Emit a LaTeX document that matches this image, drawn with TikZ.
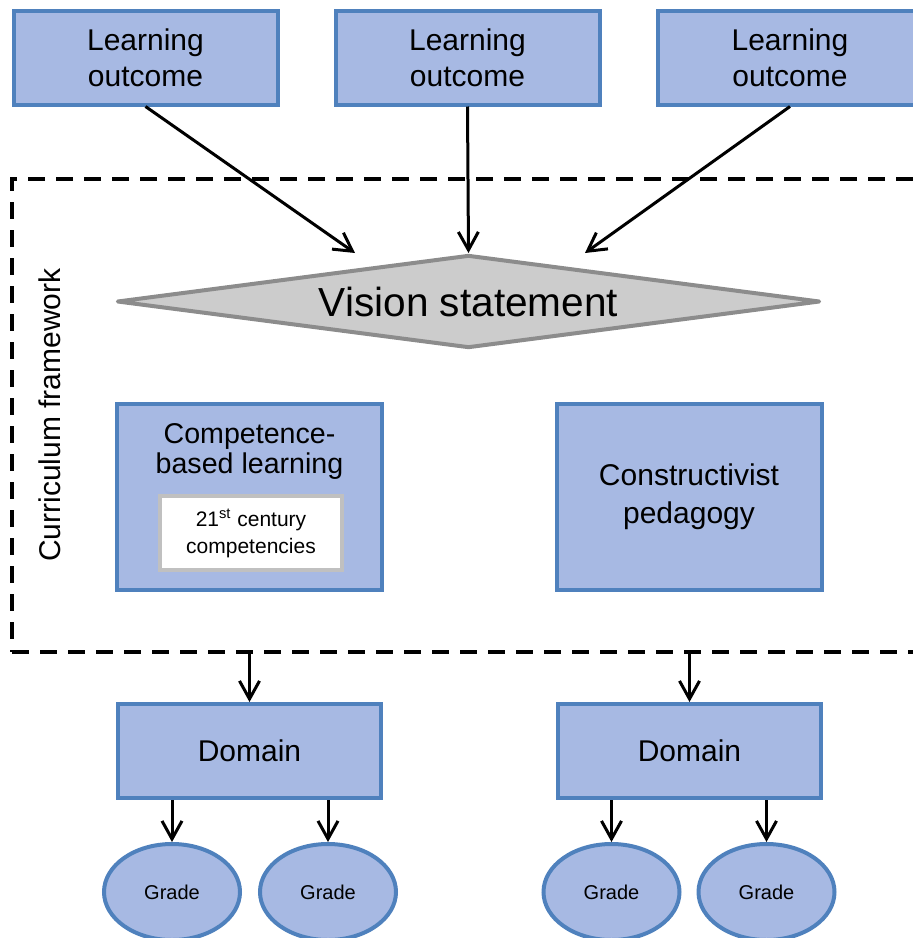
\documentclass[tikz,border=0pt]{standalone}
\usepackage{fontspec}
\setmainfont{Liberation Sans}
\usepackage{tikz}
\usetikzlibrary{
    positioning,
    arrows.meta,
    shapes.geometric
}

\begin{document}
\begin{tikzpicture}[
    x=0.5pt, y=-0.5pt,
    font=\fontsize{15}{18}\selectfont,
    box/.style={
    	draw=my-border, fill=my-blue,
    	line width=2pt,
    	inner sep=2pt, align=center
    }, grade/.style={
    	ellipse, draw=my-border, fill=my-blue,
    	line width=2pt, inner sep=0pt,
    	minimum width=68pt, minimum height=48pt,
    	font=\fontsize{10}{12}\selectfont
    }, pil/.style={
    	-{Straight Barb[length=9pt,width=10pt]},
    	line width=1.5pt
    }]
    \definecolor{my-blue}{RGB}{167, 185, 227}
    \definecolor{my-border}{RGB}{79, 129, 189}
    \definecolor{my-grey}{RGB}{204, 204, 204}
    \definecolor{my-darkgrey}{RGB}{140, 140, 140}
    \definecolor{my-lightgrey}{RGB}{192, 192, 192}

    \clip (0,0) rectangle (913,938);

    % outcomes on top
    \node[box, minimum width=132pt, minimum height=47pt] (outcome1) at (145.5,57.5) {Learning\\outcome};
    \node[box, minimum width=132pt, minimum height=47pt] (outcome2) at (467.5,57.5) {Learning\\outcome};
    \node[box, minimum width=132pt, minimum height=47pt] (outcome3) at (790,57.5) {Learning\\outcome};

    % framework
    \node[draw, dash pattern=on 8.5pt off 5.5pt, line width=1.6pt,
    	minimum width=464pt, minimum height=236.5pt, inner sep=0pt] (frame) at (476,415.5) {};
    \node[rotate=90] (frame-label) at (50,415) {Curriculum framework};

    \node[diamond, draw=my-darkgrey, fill=my-grey, line width=2pt, line join=round,
    	shape aspect=7, inner sep=0pt, minimum width=351.5pt, minimum height=46.5pt,
    	font=\fontsize{20.3}{24}\selectfont] (vision) at (468.5,301.5) {Vision statement};

    \coordinate (vision-left) at (355,253);
    \coordinate (vision-right) at (585,253);
    \draw[pil] (outcome1.south) -- (vision-left);
    \draw[pil] (outcome2.south) -- (vision.north);
    \draw[pil] (outcome3.south) -- (vision-right);

    \node[box, minimum width=132.5pt, minimum height=93pt] (competence) at (249.5,497) {};
    \node[align=center, font=\fontsize{14.3}{15}\selectfont] (competence-text) at (249.5,451) {Competence-\\based learning};
    \node[draw=my-lightgrey, fill=white, line width=2pt, align=center,
    	minimum width=91pt, minimum height=37pt, inner sep=0pt,
    	font=\fontsize{10.5}{13.5}\selectfont] (century) at (251,533) {21\textsuperscript{st} century\\competencies};

    \node[box, minimum width=132.5pt, minimum height=93pt,
    	font=\fontsize{15}{19}\selectfont] (pedagogy) at (689,497) {Constructivist\\pedagogy};

    % domains and grades
    \node[box, minimum width=131.5pt, minimum height=47pt] (domain1) at (249.5,751) {Domain};
    \node[box, minimum width=131.5pt, minimum height=47pt] (domain2) at (689.5,751) {Domain};
    \draw[pil] (frame.south -| domain1) -- (domain1);
    \draw[pil] (frame.south -| domain2) -- (domain2);

    \node[grade] (grade1) at (172,892) {Grade};
    \node[grade] (grade2) at (328,892) {Grade};
    \node[grade] (grade3) at (611.5,892) {Grade};
    \node[grade] (grade4) at (766.5,892) {Grade};

    \draw[pil] (domain1.south -| grade1) -- (grade1);
    \draw[pil] (domain1.south -| grade2) -- (grade2);
    \draw[pil] (domain2.south -| grade3) -- (grade3);
    \draw[pil] (domain2.south -| grade4) -- (grade4);

\end{tikzpicture}
\end{document}
